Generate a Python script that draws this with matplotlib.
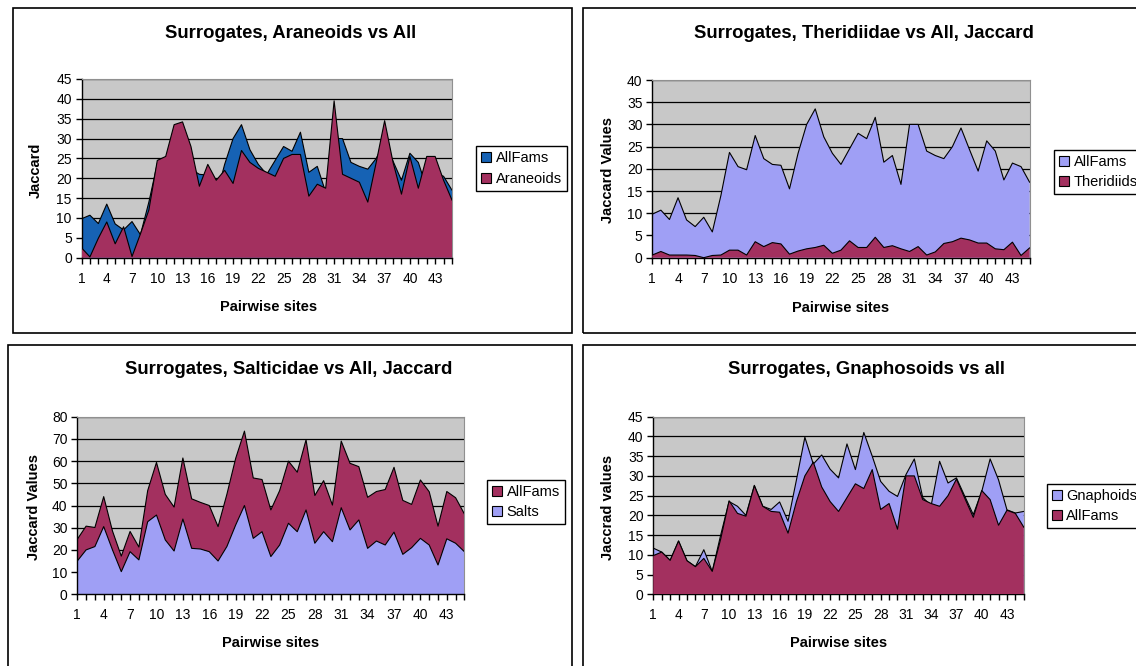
import numpy as np
import matplotlib
matplotlib.use("Agg")
import matplotlib.pyplot as plt
from matplotlib.patches import Rectangle, Patch

plt.rcParams['font.family'] = ['Liberation Sans', 'DejaVu Sans']

# ---------------- data ----------------
sites = list(range(1, 46))
tick_labels = [str(v) if (v - 1) % 3 == 0 else '' for v in sites]

all_fams = [9.8, 10.7, 8.6, 13.5, 8.5, 7.0, 9.1, 5.8, 14.0, 23.7,
            20.5, 19.8, 27.5, 22.3, 21.0, 20.8, 15.5, 23.5, 30.0, 33.5,
            27.2, 23.5, 21.0, 24.5, 28.0, 26.8, 31.6, 21.5, 23.0, 16.5,
            30.0, 30.0, 24.0, 23.0, 22.3, 25.0, 29.2, 24.3, 19.5, 26.3,
            24.0, 17.5, 21.3, 20.5, 17.0]

araneoids = [2.5, 0.2, 4.9, 9.0, 3.5, 7.8, 0.3, 6.0, 12.0, 24.5,
             25.5, 33.5, 34.2, 28.0, 18.0, 23.5, 19.5, 22.0, 18.7, 27.0,
             24.0, 22.5, 21.5, 20.5, 25.0, 26.0, 26.0, 15.5, 18.5, 17.5,
             39.5, 21.0, 20.0, 19.0, 14.0, 24.0, 34.5, 24.0, 16.0, 25.5,
             17.5, 25.5, 25.5, 19.5, 14.5]

theridiids = [0.6, 1.4, 0.6, 0.6, 0.6, 0.5, 0.0, 0.5, 0.6, 1.7,
              1.7, 0.6, 3.6, 2.5, 3.4, 3.1, 0.8, 1.5, 2.0, 2.3,
              2.8, 1.0, 1.7, 3.8, 2.3, 2.3, 4.6, 2.3, 2.7, 2.0,
              1.4, 2.5, 0.6, 1.3, 3.2, 3.6, 4.4, 4.0, 3.3, 3.3,
              2.0, 1.8, 3.5, 0.5, 2.2]

salts = [15.0, 20.0, 21.5, 30.5, 20.0, 10.2, 19.2, 15.5, 32.7, 35.7,
         24.5, 19.5, 33.9, 20.7, 20.4, 19.2, 15.0, 21.5, 31.2, 40.0,
         25.2, 28.2, 17.0, 22.2, 32.0, 28.2, 38.0, 23.0, 28.2, 23.7,
         39.0, 29.0, 33.5, 20.7, 24.0, 22.2, 28.0, 18.0, 21.0, 25.2,
         22.2, 13.2, 25.0, 23.0, 19.2]

gnaphoids = [11.7, 10.7, 8.6, 13.5, 8.5, 7.0, 11.3, 5.8, 15.0, 23.5,
             22.3, 20.0, 27.6, 22.3, 21.5, 23.4, 18.5, 29.0, 39.8, 33.0,
             35.3, 31.7, 29.5, 38.1, 31.6, 41.0, 35.0, 28.6, 26.1, 24.8,
             30.3, 34.3, 24.5, 22.5, 33.7, 28.2, 29.5, 24.8, 20.2, 26.0,
             34.3, 29.0, 21.4, 20.6, 21.0]

# ---------------- style ----------------
W, H = 1136, 666
MAROON = '#a3305f'
LAV = '#9f9ff5'
BLUE = '#1662b4'
PLOT_BG = '#c8c8c8'

fig = plt.figure(figsize=(W / 100, H / 100), dpi=100)
fig.patch.set_facecolor('white')


def px_axes(left, right, top, bottom):
    return fig.add_axes([left / W, 1 - bottom / H, (right - left) / W, (bottom - top) / H])


def box(x0, y0, x1, y1):
    fig.add_artist(Rectangle((x0 / W, 1 - y1 / H), (x1 - x0) / W, (y1 - y0) / H,
                             transform=fig.transFigure, fill=False,
                             ec='black', lw=1.2, clip_on=False))


def style_ax(ax, ymax, ystep):
    ax.set_facecolor(PLOT_BG)
    ax.set_xlim(1, 45)
    ax.set_ylim(0, ymax)
    ax.set_yticks(np.arange(0, ymax + 0.1, ystep))
    ax.set_xticks(sites)
    ax.set_xticklabels(tick_labels)
    ax.set_axisbelow(True)
    ax.yaxis.grid(True, color='black', lw=0.9)
    for s in ('top', 'right'):
        ax.spines[s].set_color('#909090')
        ax.spines[s].set_linewidth(0.8)
    for s in ('left', 'bottom'):
        ax.spines[s].set_color('black')
        ax.spines[s].set_linewidth(1.0)
    ax.tick_params(axis='both', direction='out', length=4, width=1.0,
                   colors='black', labelsize=10, pad=3)
    ax.tick_params(axis='x', pad=6)


def area(ax, y, color, z):
    ax.fill_between(sites, 0, y, facecolor=color, edgecolor='none', zorder=z)
    ax.plot(sites, y, color='black', lw=0.8, zorder=z + 0.1)


def legend(ax, entries, left_px, cy_px):
    handles = [Patch(facecolor=c, edgecolor='black', lw=0.8) for _, c in entries]
    labels = [n for n, _ in entries]
    ax.legend(handles, labels, loc='center left',
              bbox_to_anchor=(left_px / W, 1 - cy_px / H),
              bbox_transform=fig.transFigure, frameon=True, fancybox=False,
              edgecolor='black', framealpha=1, fontsize=10.5,
              handlelength=0.7, handleheight=0.7, handletextpad=0.3,
              labelspacing=0.45, borderpad=0.35, borderaxespad=0)


def texts(title, xlab, ylab, tx, ty, xx, xy, yx, yy):
    fig.text(tx / W, 1 - ty / H, title, ha='center', va='center', fontsize=13.3,
             fontweight='bold')
    fig.text(xx / W, 1 - xy / H, xlab, ha='center', va='center', fontsize=10.5,
             fontweight='bold')
    fig.text(yx / W, 1 - yy / H, ylab, ha='center', va='center', fontsize=10.5,
             fontweight='bold', rotation=90)


# chart borders
box(12.7, 8.3, 572, 333)
box(582.6, 8.3, 1140, 333)
box(8, 345, 572, 670)
box(582.6, 345, 1140, 670)

# Panel 1
ax1 = px_axes(81.5, 452, 79, 257.7)
style_ax(ax1, 45, 5)
area(ax1, all_fams, BLUE, 2)
area(ax1, araneoids, MAROON, 3)
legend(ax1, [('AllFams', BLUE), ('Araneoids', MAROON)], 476, 168.5)
texts('Surrogates, Araneoids vs All', 'Pairwise sites', 'Jaccard',
      291, 33, 269, 307, 36, 170)

# Panel 2
ax2 = px_axes(652.3, 1029.6, 80, 257.7)
style_ax(ax2, 40, 5)
area(ax2, all_fams, LAV, 2)
area(ax2, theridiids, MAROON, 3)
legend(ax2, [('AllFams', LAV), ('Theridiids', MAROON)], 1054, 172)
texts('Surrogates, Theridiidae vs All, Jaccard', 'Pairwise sites', 'Jaccard Values',
      864, 33, 841, 308, 608, 170)

# Panel 3 (stacked)
ax3 = px_axes(77.3, 464.4, 416.7, 594.3)
style_ax(ax3, 80, 10)
ax3.stackplot(sites, salts, all_fams, colors=[LAV, MAROON], zorder=2)
ax3.plot(sites, salts, color='black', lw=0.8, zorder=3)
ax3.plot(sites, np.add(salts, all_fams), color='black', lw=0.8, zorder=3)
legend(ax3, [('AllFams', MAROON), ('Salts', LAV)], 487, 502)
texts('Surrogates, Salticidae vs All, Jaccard', 'Pairwise sites', 'Jaccard Values',
      289, 370, 271, 643, 34.5, 507)

# Panel 4
ax4 = px_axes(653.3, 1023.8, 416.7, 594.3)
style_ax(ax4, 45, 5)
area(ax4, gnaphoids, LAV, 2)
area(ax4, all_fams, MAROON, 3)
legend(ax4, [('Gnaphoids', LAV), ('AllFams', MAROON)], 1046.5, 506)
texts('Surrogates, Gnaphosoids vs all', 'Pairwise sites', 'Jaccrad values',
      866, 370, 839, 643, 608, 507)

fig.savefig('out.png', dpi=100)
